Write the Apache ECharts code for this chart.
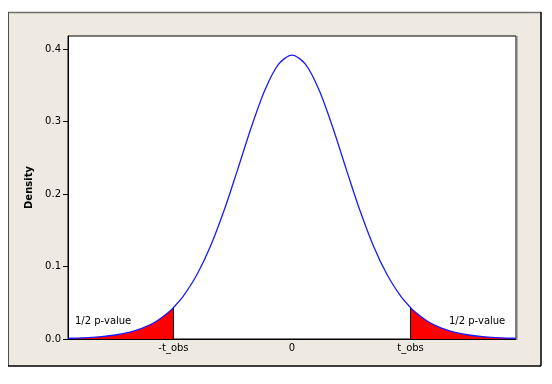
<!DOCTYPE html>
<html>
<head>
<meta charset="utf-8">
<script src="https://cdn.jsdelivr.net/npm/echarts@6/dist/echarts.min.js"></script>
<style>html,body{margin:0;padding:0;background:#fff}#c{width:552px;height:384px}</style>
</head>
<body>
<div id="c"></div>
<script>
// Density curve (x, density)
const curveX = [-4.12,-4,-3.75,-3.5,-3.25,-3,-2.75,-2.5,-2.25,-2.18,-2,-1.75,-1.5,-1.25,-1,-0.75,-0.5,-0.25,0,0.25,0.5,0.75,1,1.25,1.5,1.75,2,2.18,2.25,2.5,2.75,3,3.25,3.5,3.75,4,4.12];
const curveY = [0.0009,0.0012,0.0020,0.0033,0.0055,0.0091,0.0149,0.0241,0.0382,0.0433,0.0591,0.0886,0.1280,0.1772,0.2337,0.2917,0.3431,0.3788,0.3916,0.3788,0.3431,0.2917,0.2337,0.1772,0.1280,0.0886,0.0591,0.0433,0.0382,0.0241,0.0149,0.0091,0.0055,0.0033,0.0020,0.0012,0.0009];
const tObs = 2.18;
const xRange = [-4.12, 4.12];
const yRange = [0, 0.418];
const yTicks = [0, 0.1, 0.2, 0.3, 0.4];
const xTickValues = [-2.18, 0, 2.18];
const xTickLabels = ['-t_obs', '0', 't_obs'];
const tailLabel = '1/2 p-value';
const yName = 'Density';

const pts = curveX.map((x, i) => [x, curveY[i]]);
const leftTail = pts.filter(p => p[0] <= -tObs + 1e-9);
const rightTail = pts.filter(p => p[0] >= tObs - 1e-9);
const tY = curveY[curveX.indexOf(tObs)];

const chart = echarts.init(document.getElementById('c'), null, {renderer: 'canvas'});
const font = '"DejaVu Sans", sans-serif';
chart.setOption({
  backgroundColor: '#ffffff',
  animation: false,
  graphic: [
    {type: 'rect', z: -100, shape: {x: 8, y: 12, width: 533, height: 354}, style: {fill: '#eeeae1', stroke: null}},
    {type: 'line', z: -99, shape: {x1: 8, y1: 12.5, x2: 541, y2: 12.5}, style: {stroke: '#707070', lineWidth: 1.5}},
    {type: 'line', z: -99, shape: {x1: 8.5, y1: 12, x2: 8.5, y2: 366}, style: {stroke: '#505050', lineWidth: 1}},
    {type: 'line', z: -99, shape: {x1: 541, y1: 12, x2: 541, y2: 366}, style: {stroke: '#000', lineWidth: 1.5}},
    {type: 'line', z: -99, shape: {x1: 8, y1: 366, x2: 541, y2: 366}, style: {stroke: '#000', lineWidth: 1.5}},
    {type: 'line', z: -98, shape: {x1: 517.5, y1: 36, x2: 517.5, y2: 340}, style: {stroke: '#b0b0b0', lineWidth: 1}},
    {type: 'text', z: 50, left: 75, top: 316, style: {text: tailLabel, font: '10px ' + font, fill: '#000'}},
    {type: 'text', z: 50, left: 449, top: 316, style: {text: tailLabel, font: '10px ' + font, fill: '#000'}}
  ],
  grid: {left: 68, right: 36, top: 36, bottom: 45, show: true, backgroundColor: '#fff', borderColor: '#000', borderWidth: 1, outerBoundsMode: 'none'},
  xAxis: {
    type: 'value', min: xRange[0], max: xRange[1],
    axisLine: {show: true, onZero: false, lineStyle: {color: '#000'}},
    axisTick: {show: false},
    splitLine: {show: false},
    axisLabel: {
      customValues: xTickValues, margin: 4, color: '#000', fontFamily: font, fontSize: 10,
      formatter: v => { const i = xTickValues.findIndex(t => Math.abs(t - v) < 1e-6); return i >= 0 ? xTickLabels[i] : ''; }
    }
  },
  yAxis: {
    type: 'value', min: yRange[0], max: yRange[1],
    name: yName, nameLocation: 'middle', nameGap: 33,
    nameTextStyle: {fontFamily: font, fontSize: 10, fontWeight: 'bold', color: '#000'},
    axisLine: {show: true, onZero: false, lineStyle: {color: '#000'}},
    axisTick: {show: true, customValues: yTicks, length: 5, lineStyle: {color: '#000'}},
    splitLine: {show: false},
    axisLabel: {customValues: yTicks, margin: 7, color: '#000', fontFamily: font, fontSize: 10, formatter: v => v.toFixed(1)}
  },
  series: [
    {type: 'line', data: leftTail, smooth: 0.3, symbol: 'none', lineStyle: {width: 0}, areaStyle: {color: '#ff0000', opacity: 1}, z: 2},
    {type: 'line', data: rightTail, smooth: 0.3, symbol: 'none', lineStyle: {width: 0}, areaStyle: {color: '#ff0000', opacity: 1}, z: 2},
    {type: 'line', data: [[-tObs, 0], [-tObs, tY]], symbol: 'none', lineStyle: {width: 1, color: '#000'}, z: 3},
    {type: 'line', data: [[tObs, 0], [tObs, tY]], symbol: 'none', lineStyle: {width: 1, color: '#000'}, z: 3},
    {type: 'line', data: pts, smooth: 0.3, symbol: 'none', lineStyle: {width: 1.3, color: '#1a1aff'}, z: 4}
  ]
});
</script>
</body>
</html>
